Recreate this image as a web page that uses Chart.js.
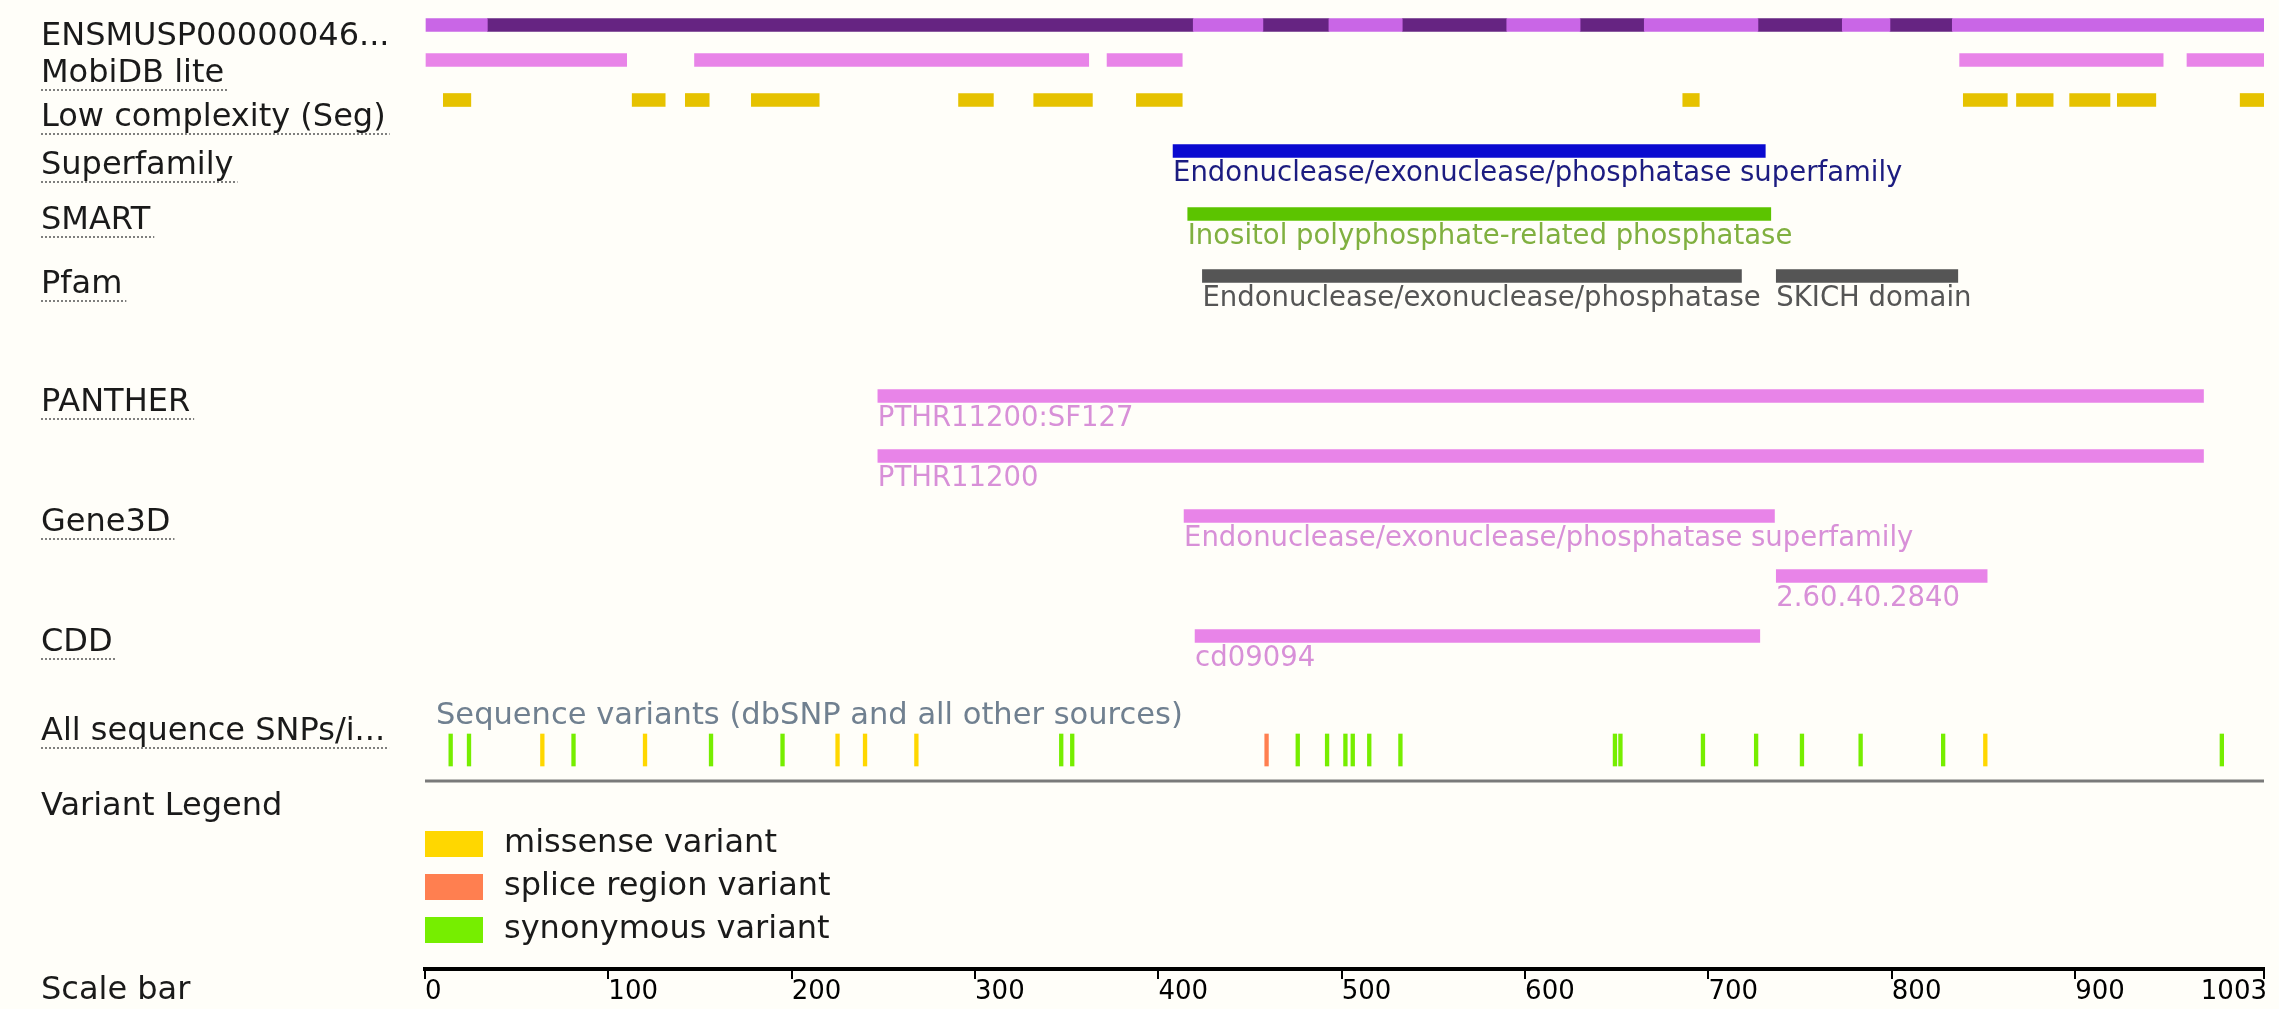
<!DOCTYPE html>
<html>
<head>
<meta charset="utf-8">
<title>Protein features</title>
<script src="https://cdn.jsdelivr.net/npm/chart.js@4.4.1/dist/chart.umd.min.js"></script>
<style>
  html, body { margin: 0; padding: 0; background: #fffef9; overflow: hidden; }
  #wrap { width: 2279px; height: 1009px; position: relative; }
</style>
</head>
<body>
<div id="wrap"><canvas id="protein-chart"></canvas></div>
<script>
// protein length and scale bar tick values
const proteinLength = 1003;
const scaleTicks = [0, 100, 200, 300, 400, 500, 600, 700, 800, 900, 1003];

// exon boundaries along the translated protein (alternating light / dark)
const exonBounds = [0, 34, 419, 457, 493, 533, 590, 630, 665, 727, 773, 799, 833, 1003];

// disordered regions and low complexity regions
const mobidbRegions = [[0, 110], [147, 362], [372, 413], [837, 948], [961, 1003]];
const segRegions = [[10, 25], [113, 131], [142, 155], [178, 215], [291, 310], [332, 364], [388, 413],
  [686, 695], [839, 863], [868, 888], [897, 919], [923, 944], [990, 1003]];

// domain tracks
const superfamilyDomains = [[408, 731]];
const superfamilyNames = ['Endonuclease/exonuclease/phosphatase superfamily'];
const smartDomains = [[416, 734]];
const smartNames = ['Inositol polyphosphate-related phosphatase'];
const pfamDomains = [[424, 718], [737, 836]];
const pfamNames = ['Endonuclease/exonuclease/phosphatase', 'SKICH domain'];
const pantherFamily = [[247, 970]];
const pantherFamilyNames = ['PTHR11200:SF127'];
const pantherSuper = [[247, 970]];
const pantherSuperNames = ['PTHR11200'];
const gene3dMain = [[414, 736]];
const gene3dMainNames = ['Endonuclease/exonuclease/phosphatase superfamily'];
const gene3dSecond = [[737, 852]];
const gene3dSecondNames = ['2.60.40.2840'];
const cddDomains = [[420, 728]];
const cddNames = ['cd09094'];

// sequence variants (residue positions)
const missenseSnps = [64, 120, 225, 240, 268, 851];
const spliceSnps = [459];
const synonymousSnps = [14, 24, 81, 156, 195, 347, 353, 476, 492, 502, 506, 515, 532,
  649, 652, 697, 726, 751, 783, 828, 980];
const variantTypes = ['missense variant', 'splice region variant', 'synonymous variant'];

// left hand track labels
const trackLabels = ['ENSMUSP00000046...', 'MobiDB lite', 'Low complexity (Seg)', 'Superfamily', 'SMART',
  'Pfam', 'PANTHER', 'Gene3D', 'CDD', 'All sequence SNPs/i...', 'Variant Legend', 'Scale bar'];

// ---- layout & styles (pixel rows on the hidden y axis) ----
const rowY = { protein: 25, mobidb: 60, seg: 100, superfamily: 151, smart: 214, pfam: 276,
  panther1: 396, panther2: 456, gene3d1: 516, gene3d2: 576, cdd: 636, snp: 750 };
const labelBaselines = [45, 82, 126, 174, 229, 293, 411, 531, 651, 740, 815, 999];
const underlined = [false, true, true, true, true, true, true, true, true, true, false, false];
const variantColors = ['#ffd700', '#ff7f50', '#76ee00'];
const bg = '#fffef9';
const fontFamily = '"DejaVu Sans", Verdana, sans-serif';

function rangeSet(ranges, y, color, names, labelColor) {
  return {
    data: ranges.map(r => ({ x: [r[0], r[1]], y: y })),
    backgroundColor: color,
    barThickness: 13,
    names: names,
    labelColor: labelColor
  };
}

function snpSet(positions, color) {
  return {
    data: positions.map(p => ({ x: [p - 1, p + 1], y: rowY.snp })),
    backgroundColor: color,
    barThickness: 32
  };
}

const exonLight = [], exonDark = [];
for (let i = 0; i < exonBounds.length - 1; i++) {
  (i % 2 === 0 ? exonLight : exonDark).push([exonBounds[i], exonBounds[i + 1]]);
}

const datasets = [
  rangeSet(exonLight, rowY.protein, '#c966e6'),
  rangeSet(exonDark, rowY.protein, '#662482'),
  rangeSet(mobidbRegions, rowY.mobidb, '#e884e8'),
  rangeSet(segRegions, rowY.seg, '#e6c200'),
  rangeSet(superfamilyDomains, rowY.superfamily, '#0a0ad0', superfamilyNames, '#1c1c80'),
  rangeSet(smartDomains, rowY.smart, '#5cc400', smartNames, '#80b040'),
  rangeSet(pfamDomains, rowY.pfam, '#555555', pfamNames, '#555555'),
  rangeSet(pantherFamily, rowY.panther1, '#e884e8', pantherFamilyNames, '#d890d8'),
  rangeSet(pantherSuper, rowY.panther2, '#e884e8', pantherSuperNames, '#d890d8'),
  rangeSet(gene3dMain, rowY.gene3d1, '#e884e8', gene3dMainNames, '#d890d8'),
  rangeSet(gene3dSecond, rowY.gene3d2, '#e884e8', gene3dSecondNames, '#d890d8'),
  rangeSet(cddDomains, rowY.cdd, '#e884e8', cddNames, '#d890d8'),
  snpSet(missenseSnps, variantColors[0]),
  snpSet(spliceSnps, variantColors[1]),
  snpSet(synonymousSnps, variantColors[2])
];

// background, labels, legend and scale bar text
const trackPlugin = {
  id: 'tracks',
  beforeDraw(chart) {
    const ctx = chart.ctx;
    ctx.save();
    ctx.fillStyle = bg;
    ctx.fillRect(0, 0, chart.width, chart.height);
    ctx.restore();
  },
  afterDraw(chart) {
    const ctx = chart.ctx;
    const xs = chart.scales.x;
    ctx.save();

    // domain names under the bars
    ctx.font = '27.5px ' + fontFamily;
    ctx.textAlign = 'left';
    ctx.textBaseline = 'alphabetic';
    chart.data.datasets.forEach((ds, di) => {
      if (!ds.names) return;
      const meta = chart.getDatasetMeta(di);
      meta.data.forEach((el, i) => {
        ctx.fillStyle = ds.labelColor;
        ctx.fillText(ds.names[i], Math.min(el.x, el.base), el.y + 30);
      });
    });

    // left hand labels with dotted underline
    ctx.font = '32px ' + fontFamily;
    trackLabels.forEach((t, i) => {
      ctx.fillStyle = '#1a1a1a';
      ctx.fillText(t, 41, labelBaselines[i]);
      if (underlined[i]) {
        const w = ctx.measureText(t).width;
        ctx.strokeStyle = '#555';
        ctx.lineWidth = 1.5;
        ctx.setLineDash([2, 2]);
        ctx.beginPath();
        ctx.moveTo(41, labelBaselines[i] + 8);
        ctx.lineTo(41 + w + 4, labelBaselines[i] + 8);
        ctx.stroke();
        ctx.setLineDash([]);
      }
    });

    // variant track caption and baseline
    ctx.font = '30.5px ' + fontFamily;
    ctx.fillStyle = '#708090';
    ctx.fillText('Sequence variants (dbSNP and all other sources)', xs.getPixelForValue(6), 724);
    ctx.strokeStyle = '#7a7a7a';
    ctx.lineWidth = 3;
    ctx.beginPath();
    ctx.moveTo(xs.getPixelForValue(0), 781);
    ctx.lineTo(xs.getPixelForValue(proteinLength), 781);
    ctx.stroke();

    // variant legend
    ctx.font = '32px ' + fontFamily;
    variantTypes.forEach((t, i) => {
      const top = 831 + i * 43;
      ctx.fillStyle = variantColors[i];
      ctx.fillRect(xs.getPixelForValue(0), top, 58, 26);
      ctx.fillStyle = '#1a1a1a';
      ctx.textBaseline = 'middle';
      ctx.fillText(t, 504, top + 13);
    });

    // scale bar tick labels
    ctx.textBaseline = 'alphabetic';
    ctx.font = '26px ' + fontFamily;
    ctx.fillStyle = '#000';
    xs.ticks.forEach((tk, i) => {
      const last = i === xs.ticks.length - 1;
      ctx.textAlign = last ? 'right' : 'left';
      ctx.fillText(String(tk.value), xs.getPixelForValue(tk.value) + (last ? 3 : 0), 999);
    });
    ctx.restore();
  }
};

new Chart(document.getElementById('protein-chart').getContext('2d'), {
  type: 'bar',
  data: { datasets: datasets },
  options: {
    indexAxis: 'y',
    responsive: true,
    maintainAspectRatio: false,
    animation: false,
    events: [],
    datasets: { bar: { grouped: false, borderWidth: 0 } },
    layout: { padding: { left: 425, right: 15, top: 0, bottom: 0 } },
    plugins: { legend: { display: false }, tooltip: { enabled: false } },
    scales: {
      y: { type: 'linear', display: false, reverse: true, min: 0, max: 1009, offset: false },
      x: {
        type: 'linear',
        min: 0,
        max: proteinLength,
        offset: false,
        position: { y: 969 },
        afterBuildTicks(scale) { scale.ticks = scaleTicks.map(v => ({ value: v })); },
        border: { display: true, color: '#000', width: 4 },
        grid: { display: true, drawOnChartArea: false, drawTicks: true, tickLength: 8, color: '#000', lineWidth: 2 },
        ticks: { display: false }
      }
    }
  },
  plugins: [trackPlugin]
});
</script>
</body>
</html>
